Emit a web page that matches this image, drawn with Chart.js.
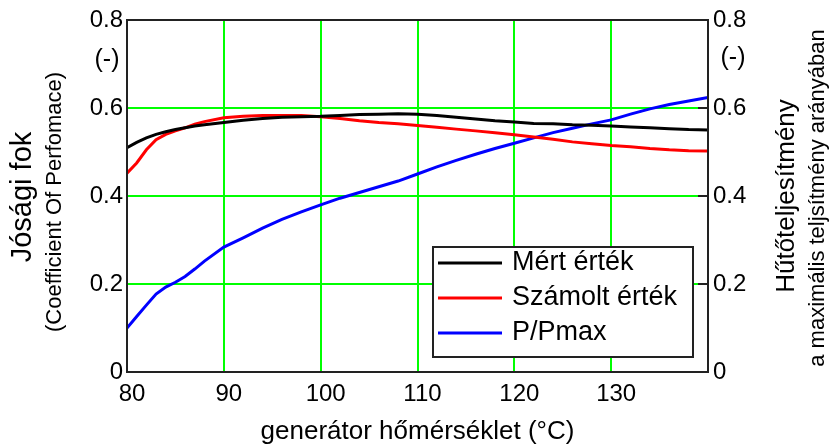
<!DOCTYPE html>
<html>
<head>
<meta charset="utf-8">
<script src="https://cdn.jsdelivr.net/npm/chart.js@4.4.1/dist/chart.umd.min.js"></script>
<style>
html,body{margin:0;padding:0;background:#fff;}
#wrap{width:831px;height:446px;position:relative;}
</style>
</head>
<body>
<div id="wrap"><canvas id="c" width="831" height="446"></canvas></div>
<script>
// ---- data ----
const temps   = [80,81,82,83,84,85,86,87,88,90,92,94,96,98,100,102,104,106,108,110,112,114,116,118,120,122,124,126,128,130,132,134,136,138,140];
const mert    = [0.510,0.522,0.532,0.540,0.546,0.551,0.555,0.559,0.562,0.567,0.572,0.576,0.579,0.580,0.581,0.583,0.585,0.586,0.587,0.586,0.583,0.579,0.575,0.571,0.568,0.565,0.564,0.562,0.561,0.559,0.557,0.555,0.553,0.551,0.550];
const szamolt = [0.452,0.475,0.505,0.528,0.540,0.548,0.555,0.563,0.569,0.578,0.581,0.583,0.583,0.583,0.580,0.576,0.571,0.567,0.564,0.560,0.556,0.552,0.548,0.544,0.539,0.534,0.529,0.523,0.519,0.515,0.512,0.508,0.505,0.503,0.502];
const pPmax   = [0.100,0.126,0.152,0.177,0.193,0.204,0.217,0.234,0.252,0.284,0.305,0.327,0.347,0.364,0.380,0.395,0.408,0.421,0.434,0.450,0.466,0.481,0.495,0.508,0.520,0.532,0.544,0.554,0.564,0.573,0.586,0.598,0.608,0.616,0.624];
const seriesNames = ['Mért érték','Számolt érték','P/Pmax'];
const xTicks = [80,90,100,110,120,130];
const yTicks = [0,0.2,0.4,0.6,0.8];
const xTitle = 'generátor hőmérséklet (°C)';
const yLeftTitle = ['Jósági fok','(Coefficient Of Perfomace)'];
const yRightTitle = ['Hűtőteljesítmény','a maximális teljsítmény arányában'];
const unitLabel = '(-)';

const FONT = "'Liberation Sans', Arial, sans-serif";
const pts = arr => temps.map((t,i)=>({x:t,y:arr[i]}));

const deco = {
  id:'deco',
  afterDraw(chart){
    const ctx = chart.ctx, a = chart.chartArea;
    ctx.save();
    // frame
    ctx.strokeStyle = '#222'; ctx.lineWidth = 2;
    ctx.strokeRect(a.left, a.top, a.right-a.left, a.bottom-a.top);
    // inward ticks on right axis
    const yr = chart.scales.yR;
    ctx.beginPath();
    yTicks.forEach(v=>{ const p = Math.round(yr.getPixelForValue(v)); ctx.moveTo(a.right-10,p); ctx.lineTo(a.right,p); });
    ctx.stroke();
    // unit labels
    ctx.fillStyle = '#000';
    ctx.font = '25px ' + FONT;
    ctx.textAlign = 'center'; ctx.textBaseline = 'middle';
    ctx.fillText(unitLabel, 107, 60);
    ctx.fillText(unitLabel, 733, 58);
    // x title
    ctx.font = '26px ' + FONT;
    ctx.fillText(xTitle, (a.left+a.right)/2, 432);
    // left titles
    ctx.save(); ctx.translate(23, 197); ctx.rotate(-Math.PI/2);
    ctx.font = '29px ' + FONT; ctx.fillText(yLeftTitle[0], 0, 0); ctx.restore();
    ctx.save(); ctx.translate(55, 202); ctx.rotate(-Math.PI/2);
    ctx.font = '22px ' + FONT; ctx.fillText(yLeftTitle[1], 0, 0); ctx.restore();
    // right titles
    ctx.save(); ctx.translate(787, 196); ctx.rotate(-Math.PI/2);
    ctx.font = '26px ' + FONT; ctx.fillText(yRightTitle[0], 0, 0); ctx.restore();
    ctx.save(); ctx.translate(818, 198); ctx.rotate(-Math.PI/2);
    ctx.font = '22px ' + FONT; ctx.fillText(yRightTitle[1], 0, 0); ctx.restore();
    // legend box
    const lx = 433, ly = 247, lw = 260, lh = 110;
    ctx.fillStyle = '#fff'; ctx.fillRect(lx, ly, lw, lh);
    ctx.strokeStyle = '#222'; ctx.lineWidth = 2; ctx.strokeRect(lx, ly, lw, lh);
    ctx.font = '27px ' + FONT; ctx.textAlign = 'left';
    chart.data.datasets.forEach((ds,i)=>{
      const cy = 263 + i*35;
      ctx.strokeStyle = ds.borderColor; ctx.lineWidth = 3;
      ctx.beginPath(); ctx.moveTo(438, cy); ctx.lineTo(502, cy); ctx.stroke();
      ctx.fillStyle = '#000'; ctx.fillText(ds.label, 512, cy);
    });
    ctx.restore();
  }
};

new Chart(document.getElementById('c'), {
  type:'line',
  data:{ datasets:[
    {label:seriesNames[0], data:pts(mert), borderColor:'#000000', yAxisID:'yL'},
    {label:seriesNames[1], data:pts(szamolt), borderColor:'#ff0000', yAxisID:'yL'},
    {label:seriesNames[2], data:pts(pPmax), borderColor:'#0000ff', yAxisID:'yR'}
  ]},
  options:{
    responsive:false, animation:false, devicePixelRatio:1,
    layout:{padding:{top:20,left:0,right:0,bottom:0}},
    elements:{ point:{radius:0}, line:{borderWidth:3, tension:0} },
    plugins:{ legend:{display:false}, tooltip:{enabled:false} },
    scales:{
      x:{ type:'linear', min:80, max:140,
        afterBuildTicks(s){ s.ticks = xTicks.map(v=>({value:v})); },
        afterFit(s){ s.height = 74; },
        grid:{ color:'#00ff00', lineWidth:2, drawTicks:false },
        border:{ display:false },
        ticks:{ font:{family:FONT,size:24}, color:'#000', padding:8, labelOffset:5, maxRotation:0 }
      },
      yL:{ type:'linear', position:'left', min:0, max:0.8,
        afterBuildTicks(s){ s.ticks = yTicks.map(v=>({value:v})); },
        afterFit(s){ s.width = 127; },
        grid:{ color:'#00ff00', lineWidth:2, drawTicks:false },
        border:{ display:false },
        ticks:{ font:{family:FONT,size:24}, color:'#000', padding:4 }
      },
      yR:{ type:'linear', position:'right', min:0, max:0.8,
        afterBuildTicks(s){ s.ticks = yTicks.map(v=>({value:v})); },
        afterFit(s){ s.width = 123; },
        grid:{ display:false, drawTicks:false },
        border:{ display:false },
        ticks:{ font:{family:FONT,size:24}, color:'#000', padding:5 }
      }
    }
  },
  plugins:[deco]
});
</script>
</body>
</html>
